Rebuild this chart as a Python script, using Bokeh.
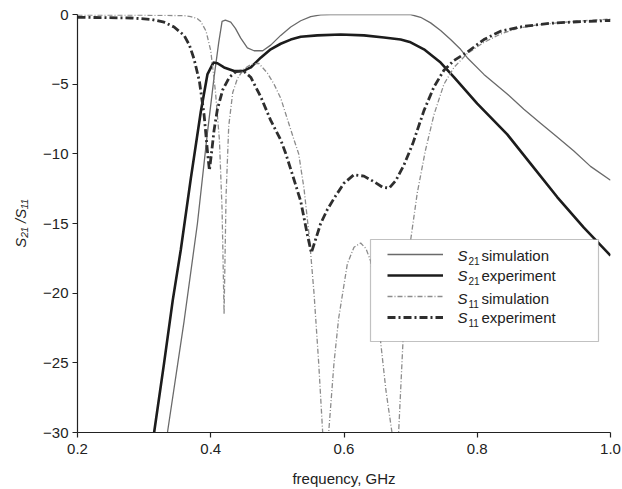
from bokeh.plotting import figure
from bokeh.models import (FixedTicker, Label, BoxAnnotation, Legend, LegendItem, Range1d)
from bokeh.embed import file_html
from bokeh.resources import INLINE

# ---- data (frequency in GHz, level in dB) ----
s21_sim_f = [0.325, 0.335, 0.36, 0.38, 0.395, 0.405, 0.412, 0.417, 0.422, 0.43, 0.437, 0.445,
             0.455, 0.465, 0.478, 0.49, 0.505, 0.52, 0.535, 0.55, 0.565, 0.58, 0.70, 0.715,
             0.73, 0.745, 0.76, 0.775, 0.785, 0.81, 0.845, 0.87, 0.895, 0.92, 0.945, 0.97, 1.0]
s21_sim_db = [-33, -30, -22, -15, -8.5, -4.5, -2.0, -0.5, -0.4, -0.55, -1.0, -1.7,
              -2.4, -2.6, -2.6, -2.2, -1.5, -0.9, -0.45, -0.15, -0.03, 0.0, 0.0, -0.2,
              -0.6, -1.15, -1.8, -2.5, -3.1, -4.3, -5.7, -6.8, -7.8, -8.8, -9.8, -10.9, -11.9]

s21_exp_f = [0.305, 0.315, 0.33, 0.343, 0.355, 0.37, 0.385, 0.395, 0.404, 0.41, 0.42, 0.435,
             0.449, 0.46, 0.475, 0.49, 0.505, 0.52, 0.535, 0.56, 0.595, 0.63, 0.66, 0.685,
             0.70, 0.72, 0.745, 0.765, 0.80, 0.845, 0.88, 0.92, 0.96, 1.0]
s21_exp_db = [-33, -30, -25, -20.5, -16.9, -11.8, -7.0, -4.3, -3.45, -3.5, -3.8, -4.05,
              -4.05, -3.8, -3.1, -2.5, -2.1, -1.8, -1.6, -1.5, -1.43, -1.5, -1.65, -1.8,
              -2.0, -2.5, -3.45, -4.5, -6.4, -8.6, -10.7, -13.1, -15.3, -17.3]

s11_sim_f = [0.20, 0.30, 0.36, 0.37, 0.38, 0.385, 0.393, 0.40, 0.407, 0.413, 0.417, 0.42,
             0.423, 0.427, 0.433, 0.44, 0.45, 0.46, 0.472, 0.485, 0.495, 0.505, 0.515,
             0.525, 0.532, 0.54, 0.548, 0.555, 0.562, 0.568, 0.572, 0.577, 0.585, 0.592,
             0.605, 0.615, 0.625, 0.633, 0.64, 0.648, 0.655, 0.663, 0.672, 0.677, 0.682,
             0.69, 0.70, 0.71, 0.722, 0.735, 0.75, 0.765, 0.785, 0.81, 0.835, 0.86, 0.89,
             0.92, 0.95, 0.975, 1.0]
s11_sim_db = [-0.05, -0.05, -0.08, -0.15, -0.3, -0.5, -1.2, -2.6, -5.5, -9.0, -14.0, -21.5,
              -13.0, -8.0, -5.6, -4.6, -3.9, -3.6, -3.5, -4.2, -5.0, -6.0, -7.5,
              -9.0, -10.0, -12.5, -16.0, -20.0, -25.0, -30.0, -34.0, -30.0, -25.0, -21.8,
              -17.9, -16.7, -16.4, -16.8, -17.7, -20.0, -23.5, -27.0, -30.0, -34.0, -30.0,
              -22.0, -16.2, -12.8, -9.8, -7.2, -5.0, -3.8, -2.8, -2.0, -1.4, -1.0, -0.75,
              -0.6, -0.48, -0.4, -0.33]

s11_exp_f = [0.20, 0.28, 0.31, 0.33, 0.345, 0.36, 0.368, 0.375, 0.383, 0.39, 0.395, 0.398,
             0.401, 0.405, 0.41, 0.418, 0.428, 0.438, 0.449, 0.46, 0.475, 0.49, 0.505, 0.512,
             0.522, 0.535, 0.545, 0.551, 0.557, 0.565, 0.575, 0.585, 0.60, 0.615, 0.63, 0.645,
             0.658, 0.668, 0.678, 0.69, 0.703, 0.72, 0.735, 0.75, 0.765, 0.785, 0.81, 0.835,
             0.87, 0.91, 0.95, 1.0]
s11_exp_db = [-0.2, -0.25, -0.35, -0.55, -0.9, -1.5, -2.2, -3.2, -4.8, -7.2, -9.8, -11.2,
              -10.0, -8.3, -6.8, -5.4, -4.5, -4.1, -4.05, -4.5, -5.9, -7.6, -9.0, -9.9,
              -11.4, -13.4, -15.8, -17.1, -16.2, -15.0, -14.0, -13.2, -12.1, -11.5, -11.6, -12.0,
              -12.4, -12.45, -11.9, -10.8, -9.3, -6.9, -5.2, -4.0, -3.3, -2.7, -1.8, -1.2,
              -0.85, -0.63, -0.52, -0.43]

x_ticks = [0.2, 0.4, 0.6, 0.8, 1.0]
x_tick_labels = ["0.2", "0.4", "0.6", "0.8", "1.0"]
y_ticks = [0, -5, -10, -15, -20, -25, -30]
y_tick_labels = ["0", "\u22125", "\u221210", "\u221215", "\u221220", "\u221225", "\u221230"]

legend_names = [("21", "simulation"), ("21", "experiment"), ("11", "simulation"), ("11", "experiment")]

FONT = "Liberation Sans"

p = figure(width=622, height=489, output_backend="svg", toolbar_location=None,
           x_range=Range1d(0.2, 1.0), y_range=Range1d(-30, 0),
           min_border_left=77, min_border_right=12, min_border_top=14, min_border_bottom=57)
p.outline_line_color = None
p.xgrid.visible = False
p.ygrid.visible = False
p.background_fill_color = "white"

for ax in (p.xaxis[0], p.yaxis[0]):
    ax.axis_line_color = "#222222"
    ax.axis_line_width = 1.2
    ax.major_tick_line_color = "#222222"
    ax.major_tick_line_width = 1.2
    ax.major_tick_out = 5
    ax.major_tick_in = 0
    ax.minor_tick_line_color = None
    ax.major_label_text_font = FONT
    ax.major_label_text_font_size = "15px"
    ax.major_label_text_color = "#222222"

p.xaxis[0].ticker = FixedTicker(ticks=x_ticks)
p.xaxis[0].major_label_overrides = {t: l for t, l in zip(x_ticks, x_tick_labels)}
p.xaxis[0].major_label_standoff = 6
p.xaxis[0].axis_label = "frequency, GHz"
p.xaxis[0].axis_label_text_font = FONT
p.xaxis[0].axis_label_text_font_size = "15px"
p.xaxis[0].axis_label_text_font_style = "normal"
p.xaxis[0].axis_label_text_color = "#222222"
p.xaxis[0].axis_label_standoff = 13

p.yaxis[0].ticker = FixedTicker(ticks=y_ticks)
p.yaxis[0].major_label_overrides = {t: l for t, l in zip(y_ticks, y_tick_labels)}
p.yaxis[0].major_label_standoff = 4
p.yaxis[0].axis_label = "S\u2082\u2081 /S\u2081\u2081"
p.yaxis[0].axis_label_text_font = FONT
p.yaxis[0].axis_label_text_font_size = "15px"
p.yaxis[0].axis_label_text_font_style = "italic"
p.yaxis[0].axis_label_text_color = "#222222"
p.yaxis[0].axis_label_standoff = 11

r1 = p.line(s21_sim_f, s21_sim_db, line_color="#6a6a6a", line_width=1.3)
r2 = p.line(s21_exp_f, s21_exp_db, line_color="#1c1c1c", line_width=2.6)
r3 = p.line(s11_sim_f, s11_sim_db, line_color="#8c8c8c", line_width=1.3, line_dash="5 2 1 2")
r4 = p.line(s11_exp_f, s11_exp_db, line_color="#2e2e2e", line_width=2.8, line_dash="8 3 2 3")

# legend frame
box = BoxAnnotation(left=293, right=521, bottom=91, top=193,
                    left_units="screen", right_units="screen",
                    bottom_units="screen", top_units="screen",
                    fill_color="white", fill_alpha=1.0,
                    line_color="#333333", line_width=1.2, level="overlay")
p.add_layout(box)

legend = Legend(items=[LegendItem(label=" ", renderers=[r]) for r in (r1, r2, r3, r4)],
                location=(305, 102), margin=0, padding=5, spacing=5,
                glyph_width=56, glyph_height=16, label_height=16, label_width=1,
                border_line_alpha=0, background_fill_alpha=0, label_text_font_size="1px")
p.add_layout(legend, "center")

row_y = [177, 157, 134, 115]
for (sub, word), yy in zip(legend_names, row_y):
    p.add_layout(Label(x=380, y=yy, x_units="screen", y_units="screen", text="S",
                       text_font=FONT, text_font_size="15px", text_font_style="italic",
                       text_baseline="middle", text_color="#222222", level="overlay"))
    p.add_layout(Label(x=391, y=yy - 5, x_units="screen", y_units="screen", text=sub,
                       text_font=FONT, text_font_size="10px",
                       text_baseline="middle", text_color="#222222", level="overlay"))
    p.add_layout(Label(x=404, y=yy, x_units="screen", y_units="screen", text=word,
                       text_font=FONT, text_font_size="15px",
                       text_baseline="middle", text_color="#222222", level="overlay"))

open("out.html", "w").write(file_html(p, INLINE))
